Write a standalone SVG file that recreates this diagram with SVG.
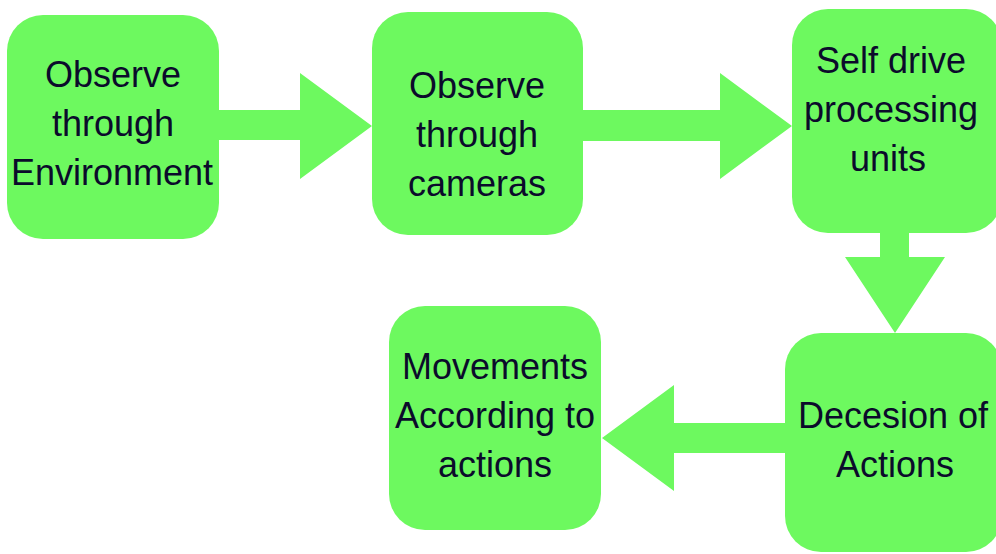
<svg xmlns="http://www.w3.org/2000/svg" width="996" height="554" viewBox="0 0 996 554">
<style>
.box{fill:#6DF95F}
.arr{fill:#6DF95F}
text{font-family:"Liberation Sans",Arial,sans-serif;font-size:36px;fill:#0B0B2B;text-anchor:middle}
</style>
<rect width="996" height="554" fill="#ffffff"/>
<g id="connectors">
<polygon class="arr" points="218,110 300,110 300,73 372,126 300,179 300,140 218,140"/>
<polygon class="arr" points="582,110 720,110 720,73 792,126 720,179 720,141 582,141"/>
<polygon class="arr" points="880,232 909,232 909,257 945,257 895,333 845,257 880,257"/>
<polygon class="arr" points="786,423 674,423 674,385 602,438 674,491 674,453 786,453"/>
</g>
<g id="n1">
<rect class="box" x="7" y="15" width="212" height="224" rx="36"/>
<text x="113" y="87">Observe</text>
<text x="113" y="136">through</text>
<text x="112" y="185">Environment</text>
</g>
<g id="n2">
<rect class="box" x="372" y="12" width="211" height="223" rx="36"/>
<text x="477" y="98">Observe</text>
<text x="477" y="147">through</text>
<text x="477" y="196">cameras</text>
</g>
<g id="n3">
<rect class="box" x="792" y="9" width="210" height="224" rx="36"/>
<text x="891" y="73">Self drive</text>
<text x="891" y="122">processing</text>
<text x="888" y="171">units</text>
</g>
<g id="n4">
<rect class="box" x="785" y="333" width="217" height="219" rx="36"/>
<text x="893" y="428">Decesion of</text>
<text x="895" y="477">Actions</text>
</g>
<g id="n5">
<rect class="box" x="389" y="306" width="212" height="224" rx="36"/>
<text x="495" y="379">Movements</text>
<text x="495" y="428">According to</text>
<text x="495" y="477">actions</text>
</g>
</svg>
